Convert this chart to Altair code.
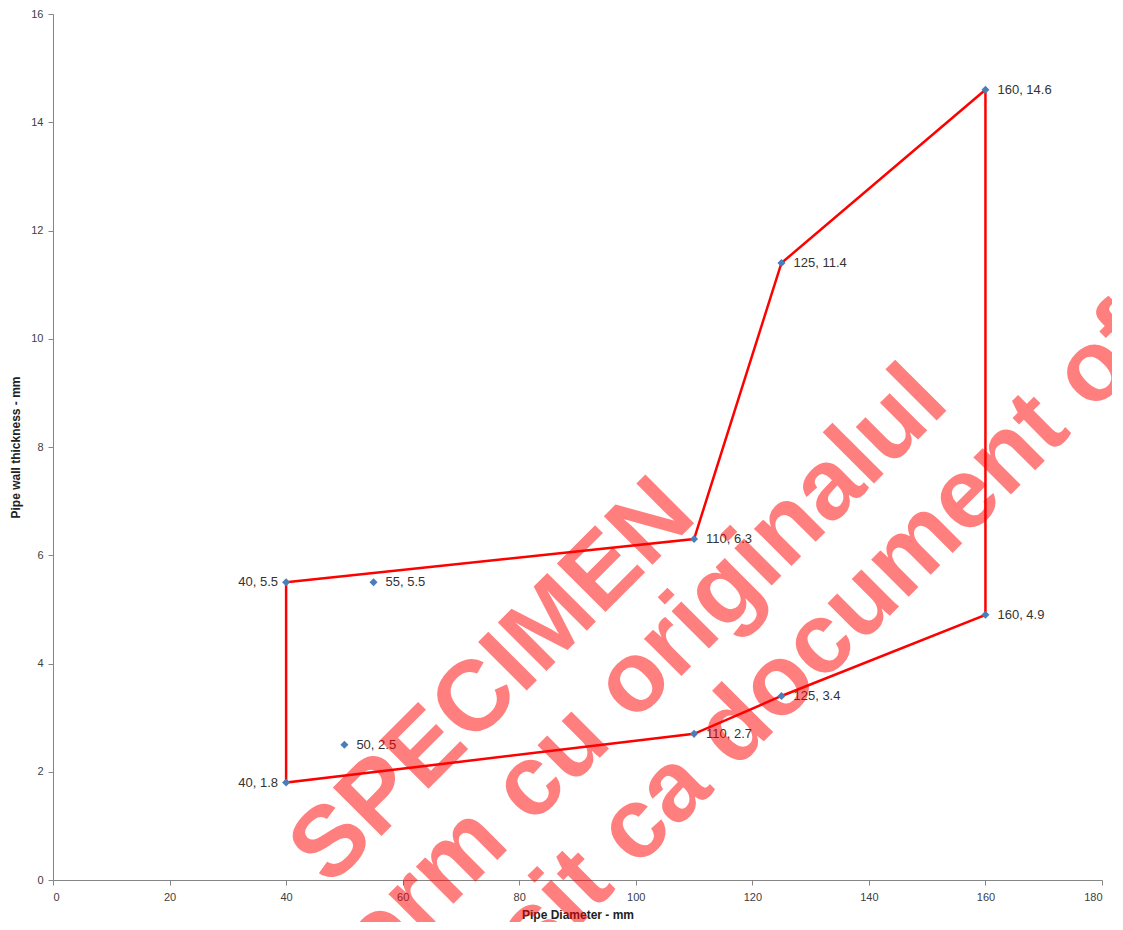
import altair as alt
import pandas as pd

# Data points (Pipe Diameter mm, wall thickness mm)
pt_x = [40, 40, 50, 55, 110, 110, 125, 125, 160, 160]
pt_y = [5.5, 1.8, 2.5, 5.5, 6.3, 2.7, 11.4, 3.4, 14.6, 4.9]

# Red envelope polygon, in drawing order
poly_x = [40, 110, 125, 160, 160, 125, 110, 40, 40]
poly_y = [5.5, 6.3, 11.4, 14.6, 4.9, 3.4, 2.7, 1.8, 5.5]

x_ticks = [0, 20, 40, 60, 80, 100, 120, 140, 160, 180]
y_ticks = [0, 2, 4, 6, 8, 10, 12, 14, 16]

wm_lines = ["SPECIMEN", "Conform cu originalul", "Nu poate fi folosit ca document oficial"]

pts = pd.DataFrame({"d": pt_x, "t": pt_y})
pts["label"] = [f"{a:g}, {b:g}" for a, b in zip(pt_x, pt_y)]
poly = pd.DataFrame({"d": poly_x, "t": poly_y, "o": list(range(len(poly_x)))})

FONT = "Liberation Sans"
W, H = 1049, 866

xs = alt.Scale(domain=[0, 180], nice=False, zero=False)
ys = alt.Scale(domain=[0, 16], nice=False, zero=False)

xenc = alt.X("d:Q", scale=xs, axis=alt.Axis(values=x_ticks, title="Pipe Diameter - mm",
                                             labelPadding=6, titlePadding=7))
yenc = alt.Y("t:Q", scale=ys, axis=alt.Axis(values=y_ticks, title="Pipe wall thickness - mm",
                                             labelPadding=5, titlePadding=8))

line = alt.Chart(poly).mark_line(color="#ff0000", strokeWidth=2.5).encode(
    x=xenc, y=yenc, order="o:Q")

points = alt.Chart(pts).mark_point(shape="diamond", filled=True, size=65, color="#4a7ebb", opacity=1).encode(
    x=alt.X("d:Q", scale=xs), y=alt.Y("t:Q", scale=ys))

lab_right = alt.Chart(pts).transform_filter("datum.d != 40").mark_text(
    align="left", baseline="middle", dx=12, font=FONT, fontSize=13, color="#333333").encode(
    x=alt.X("d:Q", scale=xs), y=alt.Y("t:Q", scale=ys), text="label:N")

lab_left = alt.Chart(pts).transform_filter("datum.d == 40").mark_text(
    align="right", baseline="middle", dx=-8, font=FONT, fontSize=13, color="#333333").encode(
    x=alt.X("d:Q", scale=xs), y=alt.Y("t:Q", scale=ys), text="label:N")

wm_df = pd.DataFrame({"txt": wm_lines, "i": list(range(len(wm_lines)))})
wm_layers = []
centers = [(440, 668), (510, 738), (584, 812)]
for k, (cx, cy) in enumerate(centers):
    wm_layers.append(
        alt.Chart(wm_df).transform_filter(f"datum.i == {k}").mark_text(
            align="center", baseline="middle", angle=315, font=FONT, fontWeight="bold",
            fontSize=100, color="#ff0000", opacity=0.5).encode(
            x=alt.value(cx), y=alt.value(cy), text="txt:N")
    )

chart = alt.layer(line, points, lab_right, lab_left, *wm_layers).properties(
    width=W, height=H,
    autosize=alt.AutoSizeParams(type="none"),
    padding={"left": 45, "top": 6, "right": 10, "bottom": 42},
).configure_view(stroke=None).configure_axis(
    grid=False, domainColor="#868686", tickColor="#868686", tickSize=5,
    labelFont=FONT, labelFontSize=11, labelColor="#404040",
    titleFont=FONT, titleFontSize=12, titleFontWeight="bold", titleColor="#222222",
)

chart.save("out.html", embed_options={"renderer": "svg", "actions": False})
